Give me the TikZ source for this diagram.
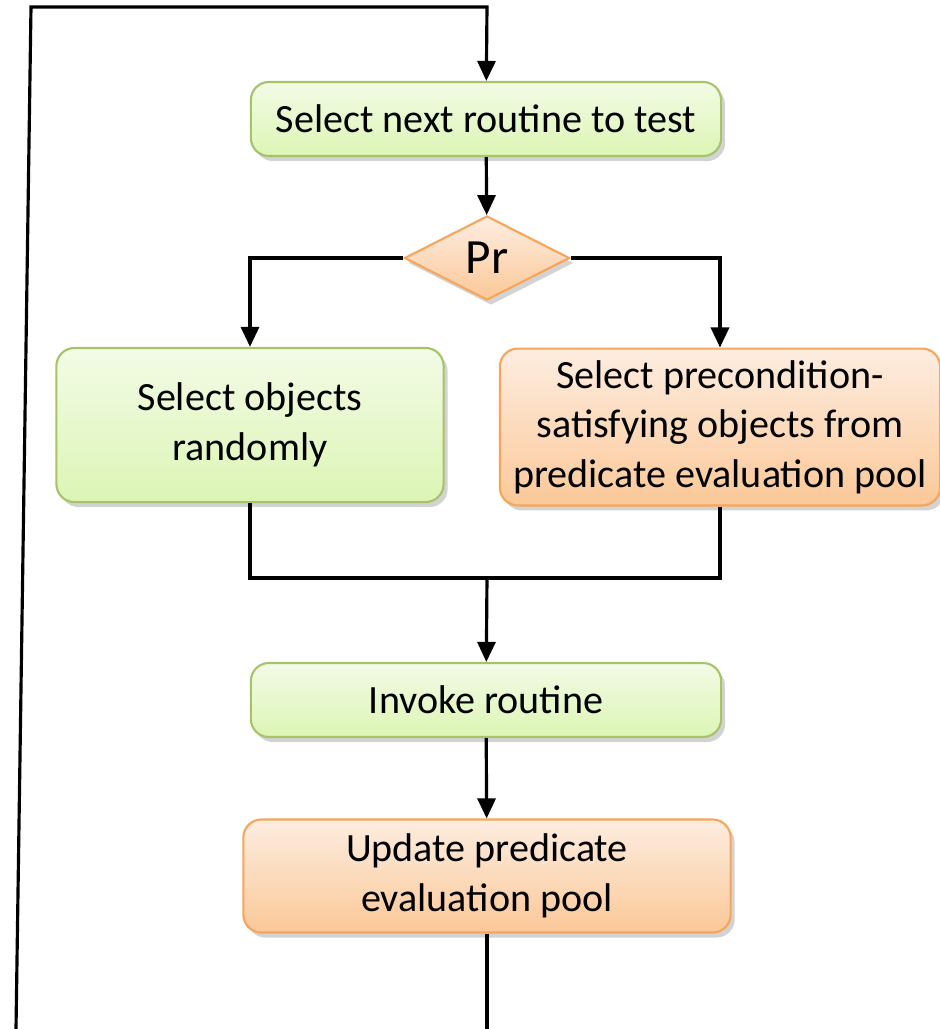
\documentclass[tikz,border=0pt]{standalone}
\usepackage{fontspec}
\setmainfont{Carlito}
\usepackage{tikz}
\usetikzlibrary{arrows.meta,
                calc,
                positioning,
                shadows,
                shapes.geometric}

\definecolor{greenfill1}{HTML}{F3FBE6}
\definecolor{greenfill2}{HTML}{DCF5B4}
\definecolor{greenline}{HTML}{A6C36B}
\definecolor{orangefill1}{HTML}{FDEDE0}
\definecolor{orangefill2}{HTML}{FBC898}
\definecolor{orangeline}{HTML}{F7A55A}

\tikzset{
  greenbox/.style={draw=greenline,line width=0.6pt,rounded corners=0.18cm,
    top color=greenfill1,bottom color=greenfill2,align=center,
    drop shadow={shadow xshift=0.04cm,shadow yshift=-0.05cm,opacity=0.35}},
  orangebox/.style={draw=orangeline,line width=0.6pt,rounded corners=0.18cm,
    top color=orangefill1,bottom color=orangefill2,align=center,
    drop shadow={shadow xshift=0.04cm,shadow yshift=-0.05cm,opacity=0.35}},
  flow/.style={line width=0.9pt,-{Triangle[length=0.2cm,width=0.18cm]}},
  plain/.style={line width=0.9pt}
}

\begin{document}
\begin{tikzpicture}[x=0.01cm,y=-0.01cm,font=\fontsize{11.4}{14.1}\selectfont]
  \useasboundingbox (0,0) rectangle (940,1029);

  \node[greenbox,minimum width=4.7cm,minimum height=0.74cm] (sel) at (486,119) {Select next routine to test};
  \node[diamond,draw=orangeline,line width=0.6pt,top color=orangefill1,bottom color=orangefill2,
        inner sep=0,minimum width=1.65cm,minimum height=0.84cm,font=\fontsize{14}{16}\selectfont,
        drop shadow={shadow xshift=0.04cm,shadow yshift=-0.05cm,opacity=0.35}] (pr) at (487,258) {Pr};
  \node[greenbox,minimum width=3.87cm,minimum height=1.54cm] (rand) at (250,425) {Select objects\\randomly};
  \node[orangebox,minimum width=4.4cm,minimum height=1.55cm] (pool) at (720,427) {Select precondition-\\satisfying objects from\\predicate evaluation pool};
  \node[greenbox,minimum width=4.7cm,minimum height=0.74cm] (inv) at (486,700) {Invoke routine};
  \node[orangebox,minimum width=4.87cm,minimum height=1.13cm] (upd) at (487,876) {Update predicate\\evaluation pool};

  % loop points
  \coordinate (lowout) at (487,1029);
  \coordinate (lowin) at (16,1029);
  \coordinate (topleft) at (31,7);
  \coordinate (topright) at (487,7);
  \coordinate (join) at (487,578);

  \draw[flow] (sel) -- (pr);
  \draw[flow] (pr.west) -| (rand.north);
  \draw[flow] (pr.east) -| (pool.north);
  \draw[plain] (rand.south) |- (join) -| (pool.south);
  \draw[flow] (join) -- (inv);
  \draw[flow] (inv) -- (upd);
  \draw[plain] (upd) -- (lowout);
  \draw[flow] (lowin) -- (topleft) -- (topright) -- (sel);
\end{tikzpicture}
\end{document}
